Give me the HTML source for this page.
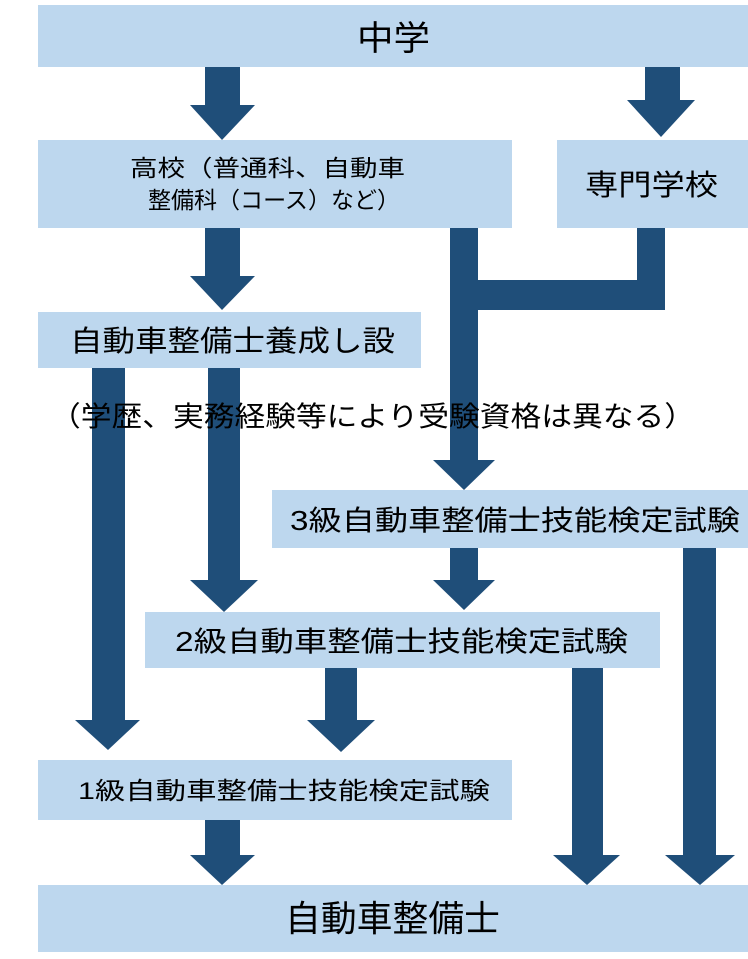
<!DOCTYPE html>
<html><head><meta charset="utf-8"><style>
html,body{margin:0;padding:0;background:#fff;}
svg{display:block;}
text{font-family:"Liberation Sans","Noto Sans CJK JP",sans-serif;fill:#000;}
</style></head><body>
<svg width="748" height="959" viewBox="0 0 748 959" xmlns="http://www.w3.org/2000/svg">
<g fill="#bdd7ee">
<rect x="38" y="5" width="710" height="62"/>
<rect x="38" y="140" width="474" height="88"/>
<rect x="557" y="140" width="191" height="88"/>
<rect x="38" y="312" width="383" height="56"/>
<rect x="272" y="490" width="476" height="58"/>
<rect x="145" y="612" width="515" height="56"/>
<rect x="38" y="760" width="474" height="60"/>
<rect x="38" y="885" width="710" height="67"/>
</g>
<g fill="#1f4e79">
<rect x="205" y="67" width="35" height="40"/><polygon points="190,105 255,105 222,140"/>
<rect x="645" y="67" width="35" height="35"/><polygon points="627,100 695,100 661,137"/>
<rect x="205" y="228" width="35" height="50"/><polygon points="190,276 255,276 222,310"/>
<rect x="637" y="228" width="28" height="82"/>
<rect x="478" y="280" width="187" height="30"/>
<rect x="450" y="228" width="28" height="234"/><polygon points="433,460 495,460 464,490"/>
<rect x="92" y="368" width="33" height="354"/><polygon points="75,720 140,720 108,750"/>
<rect x="208" y="368" width="32" height="214"/><polygon points="190,580 258,580 224,612"/>
<rect x="450" y="548" width="28" height="34"/><polygon points="433,580 495,580 464,610"/>
<rect x="683" y="548" width="33" height="309"/><polygon points="665,855 735,855 700,885"/>
<rect x="325" y="668" width="32" height="54"/><polygon points="307,720 375,720 341,752"/>
<rect x="572" y="668" width="31" height="189"/><polygon points="553,855 620,855 587,885"/>
<rect x="205" y="820" width="35" height="37"/><polygon points="190,855 255,855 222,885"/>
</g>
<g lengthAdjust="spacingAndGlyphs">
<text x="357" y="50" font-size="34" textLength="73" lengthAdjust="spacingAndGlyphs">中学</text>
<text x="130" y="176" font-size="23" textLength="275" lengthAdjust="spacingAndGlyphs">高校（普通科、自動車</text>
<text x="148" y="208" font-size="23" textLength="252" lengthAdjust="spacingAndGlyphs">整備科（コース）など）</text>
<text x="585" y="195" font-size="29" textLength="133" lengthAdjust="spacingAndGlyphs">専門学校</text>
<text x="70" y="351" font-size="29" textLength="325" lengthAdjust="spacingAndGlyphs">自動車整備士養成し設</text>
<text x="50" y="426" font-size="28" textLength="645" lengthAdjust="spacingAndGlyphs">（学歴、実務経験等により受験資格は異なる）</text>
<text x="290" y="530" font-size="28" textLength="450" lengthAdjust="spacingAndGlyphs">3級自動車整備士技能検定試験</text>
<text x="175" y="651" font-size="28" textLength="453" lengthAdjust="spacingAndGlyphs">2級自動車整備士技能検定試験</text>
<text x="78" y="799" font-size="24" textLength="412" lengthAdjust="spacingAndGlyphs">1級自動車整備士技能検定試験</text>
<text x="285" y="931" font-size="36" textLength="215" lengthAdjust="spacingAndGlyphs">自動車整備士</text>
</g>
</svg>
</body></html>
